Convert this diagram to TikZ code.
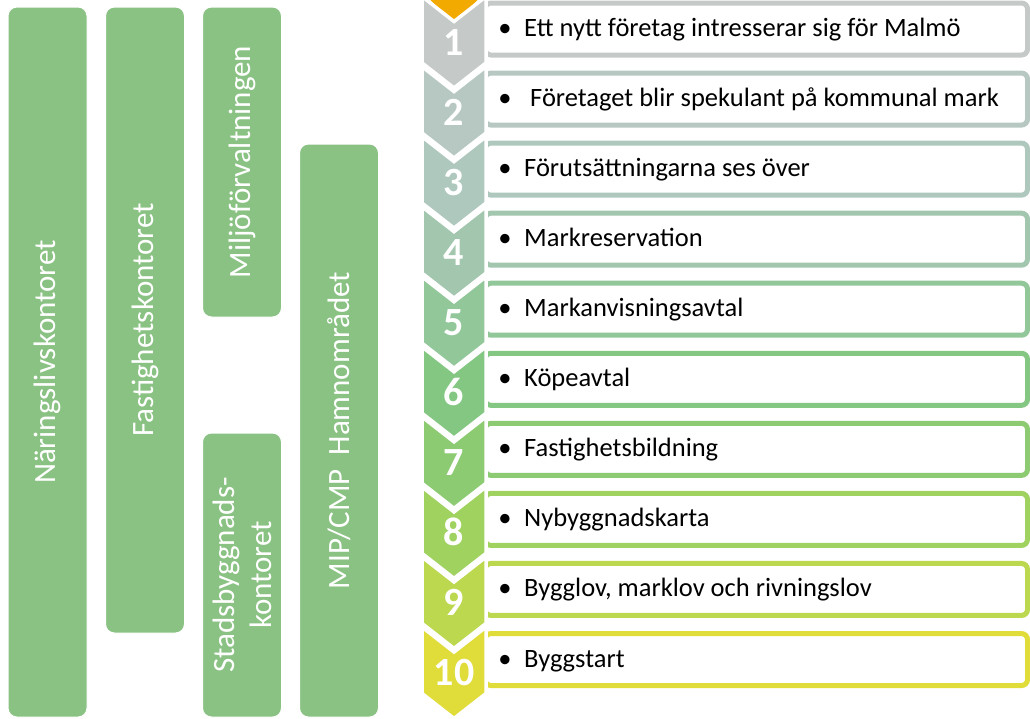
\documentclass[tikz,border=0pt]{standalone}
\usepackage{fontspec}
\setmainfont{Carlito}
\definecolor{c1}{HTML}{C5C9C8}
\definecolor{c2}{HTML}{B7C8C3}
\definecolor{c3}{HTML}{AFC8BE}
\definecolor{c4}{HTML}{A2C6AE}
\definecolor{c5}{HTML}{92C79A}
\definecolor{c6}{HTML}{84C782}
\definecolor{c7}{HTML}{8DCB72}
\definecolor{c8}{HTML}{A0D260}
\definecolor{c9}{HTML}{BCD84E}
\definecolor{c10}{HTML}{E0DC3A}
\definecolor{orng}{HTML}{F2A900}
\definecolor{barg}{HTML}{8AC283}
\begin{document}
\begin{tikzpicture}[x=1pt,y=-1pt,
  bar/.style={fill=barg, draw=white, line width=1pt, rounded corners=9pt, inner sep=0pt, outer sep=0pt, minimum width=79pt},
  vtext/.style={text=white, rotate=90, font=\fontsize{31}{37}\selectfont, align=center, inner sep=0pt},
  rowbox/.style={line width=5pt, fill=white, rounded corners=6pt, minimum width=542.5pt, minimum height=52pt, anchor=west, inner sep=0pt, outer sep=0pt},
  chev/.style={draw=white, line width=3.5pt, line join=miter},
  num/.style={text=white, font=\bfseries\fontsize{40}{40}\selectfont, anchor=base, inner sep=0pt},
  rowtext/.style={font=\fontsize{26.5}{30}\selectfont, anchor=base west, inner sep=0pt},
  bul/.style={font=\fontsize{26.5}{30}\selectfont, anchor=base, inner sep=0pt},
]
\useasboundingbox (0,0) rectangle (1030,718);
% left bars
\node[bar, minimum height=710pt] (b1) at (47.5,362) {};
\node[vtext] (t1) at (b1.center) {Näringslivskontoret};
\node[bar, minimum height=626pt] (b2) at (145,320) {};
\node[vtext] (t2) at (b2.center) {Fastighetskontoret};
\node[bar, minimum height=310pt] (b3) at (242,162) {};
\node[vtext] (t3) at (b3.center) {Miljöförvaltningen};
\node[bar, minimum height=284pt] (b4) at (242,575) {};
\node[vtext] (t4) at (b4.center) {Stadsbyggnads-\\kontoret};
\node[bar, minimum height=573pt] (b5) at (339,430.5) {};
\node[vtext] (t5) at (b5.center) {MIP/CMP\ \ Hamnområdet};
% orange piece behind first chevron
\fill[orng] (426,-5) -- (482,-5) -- (454,26) -- cycle;
% row boxes and texts
\foreach \k/\tx/\xs in {1/{Ett nytt företag intresserar sig för Malmö}/524,
  2/{Företaget blir spekulant på kommunal mark}/530,
  3/{Förutsättningarna ses över}/524,
  4/{Markreservation}/524,
  5/{Markanvisningsavtal}/524,
  6/{Köpeavtal}/524,
  7/{Fastighetsbildning}/524,
  8/{Nybyggnadskarta}/524,
  9/{Bygglov, marklov och rivningslov}/524,
  10/{Byggstart}/524}{
  \pgfmathsetmacro{\cy}{29+70.06*(\k-1)}
  \node[rowbox, draw=c\k] (r\k) at (485,\cy) {};
  \node[bul] (p\k) at (505,\cy+7.5) {•};
  \node[rowtext] (l\k) at (\xs,\cy+7.5) {\tx};
}
% chevrons, drawn from the last to the first
\foreach \k in {10,9,...,1}{
  \pgfmathsetmacro{\T}{-3.5+70.06*(\k-1)}
  \filldraw[chev, fill=c\k] (422,\T) -- (454,\T+25) -- (486,\T) -- (486,\T+66.4) -- (454,\T+91.4) -- (422,\T+66.4) -- cycle;
}
\foreach \k in {1,...,10}{
  \pgfmathsetmacro{\T}{-3.5+70.06*(\k-1)}
  \node[num] (n\k) at (454,\T+58.5) {\k};
}
\end{tikzpicture}
\end{document}
